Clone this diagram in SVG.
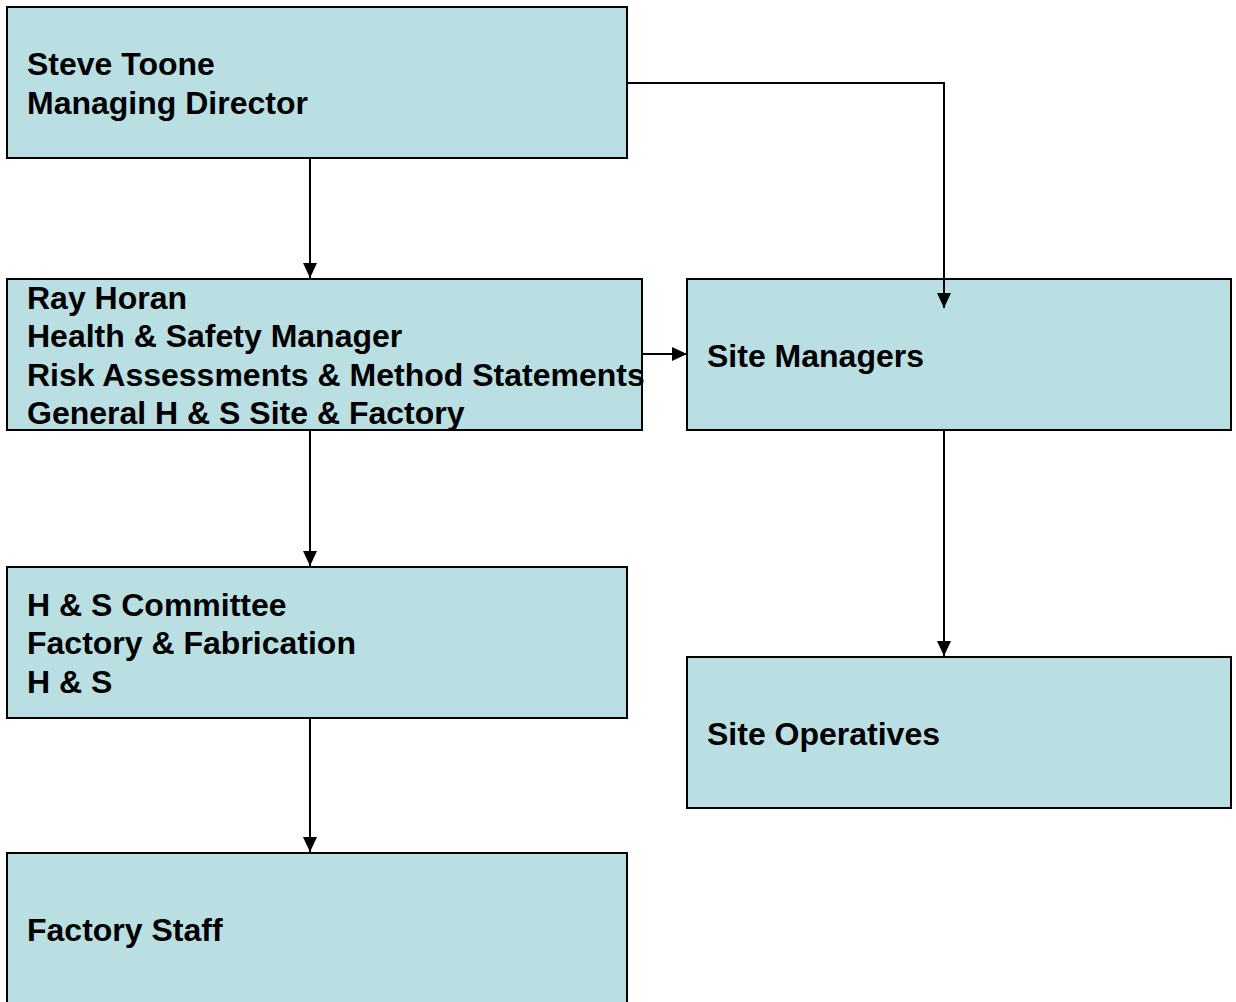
<svg xmlns="http://www.w3.org/2000/svg" width="1236" height="1002" viewBox="0 0 1236 1002">
<defs>
<style>
.box{fill:#BADFE3;stroke:#000;stroke-width:2}
.t{font-family:"Liberation Sans",Arial,sans-serif;font-weight:bold;font-size:32px;fill:#000}
.c{fill:none;stroke:#000;stroke-width:2}
</style>
<marker id="ah" viewBox="0 0 15 14" refX="15" refY="7" markerWidth="15" markerHeight="14" markerUnits="userSpaceOnUse" orient="auto">
<path d="M0,0 L15,7 L0,14 Z" fill="#000"/>
</marker>
</defs>
<rect width="1236" height="1002" fill="#fff"/>
<g id="n-steve">
<rect class="box" x="7" y="7" width="620" height="151"/>
<text class="t" x="27" y="75">Steve Toone</text>
<text class="t" x="27" y="114">Managing Director</text>
</g>
<g id="n-ray">
<rect class="box" x="7" y="279" width="635" height="151"/>
<text class="t" x="27" y="309">Ray Horan</text>
<text class="t" x="27" y="347">Health &amp; Safety Manager</text>
<text class="t" x="27" y="386">Risk Assessments &amp; Method Statements</text>
<text class="t" x="27" y="424">General H &amp; S Site &amp; Factory</text>
</g>
<g id="n-sitemgr">
<rect class="box" x="687" y="279" width="544" height="151"/>
<text class="t" x="707" y="367">Site Managers</text>
</g>
<g id="n-committee">
<rect class="box" x="7" y="567" width="620" height="151"/>
<text class="t" x="27" y="616">H &amp; S Committee</text>
<text class="t" x="27" y="654">Factory &amp; Fabrication</text>
<text class="t" x="27" y="693">H &amp; S</text>
</g>
<g id="n-siteops">
<rect class="box" x="687" y="657" width="544" height="151"/>
<text class="t" x="707" y="745">Site Operatives</text>
</g>
<g id="n-factory">
<rect class="box" x="7" y="853" width="620" height="155"/>
<text class="t" x="27" y="941">Factory Staff</text>
</g>
<g id="connectors">
<path class="c" d="M310,158 V278" marker-end="url(#ah)"/>
<path class="c" d="M627,83 H944 V308" marker-end="url(#ah)"/>
<path class="c" d="M642,354 H687" marker-end="url(#ah)"/>
<path class="c" d="M310,430 V566" marker-end="url(#ah)"/>
<path class="c" d="M944,430 V656" marker-end="url(#ah)"/>
<path class="c" d="M310,718 V852" marker-end="url(#ah)"/>
</g>
</svg>
